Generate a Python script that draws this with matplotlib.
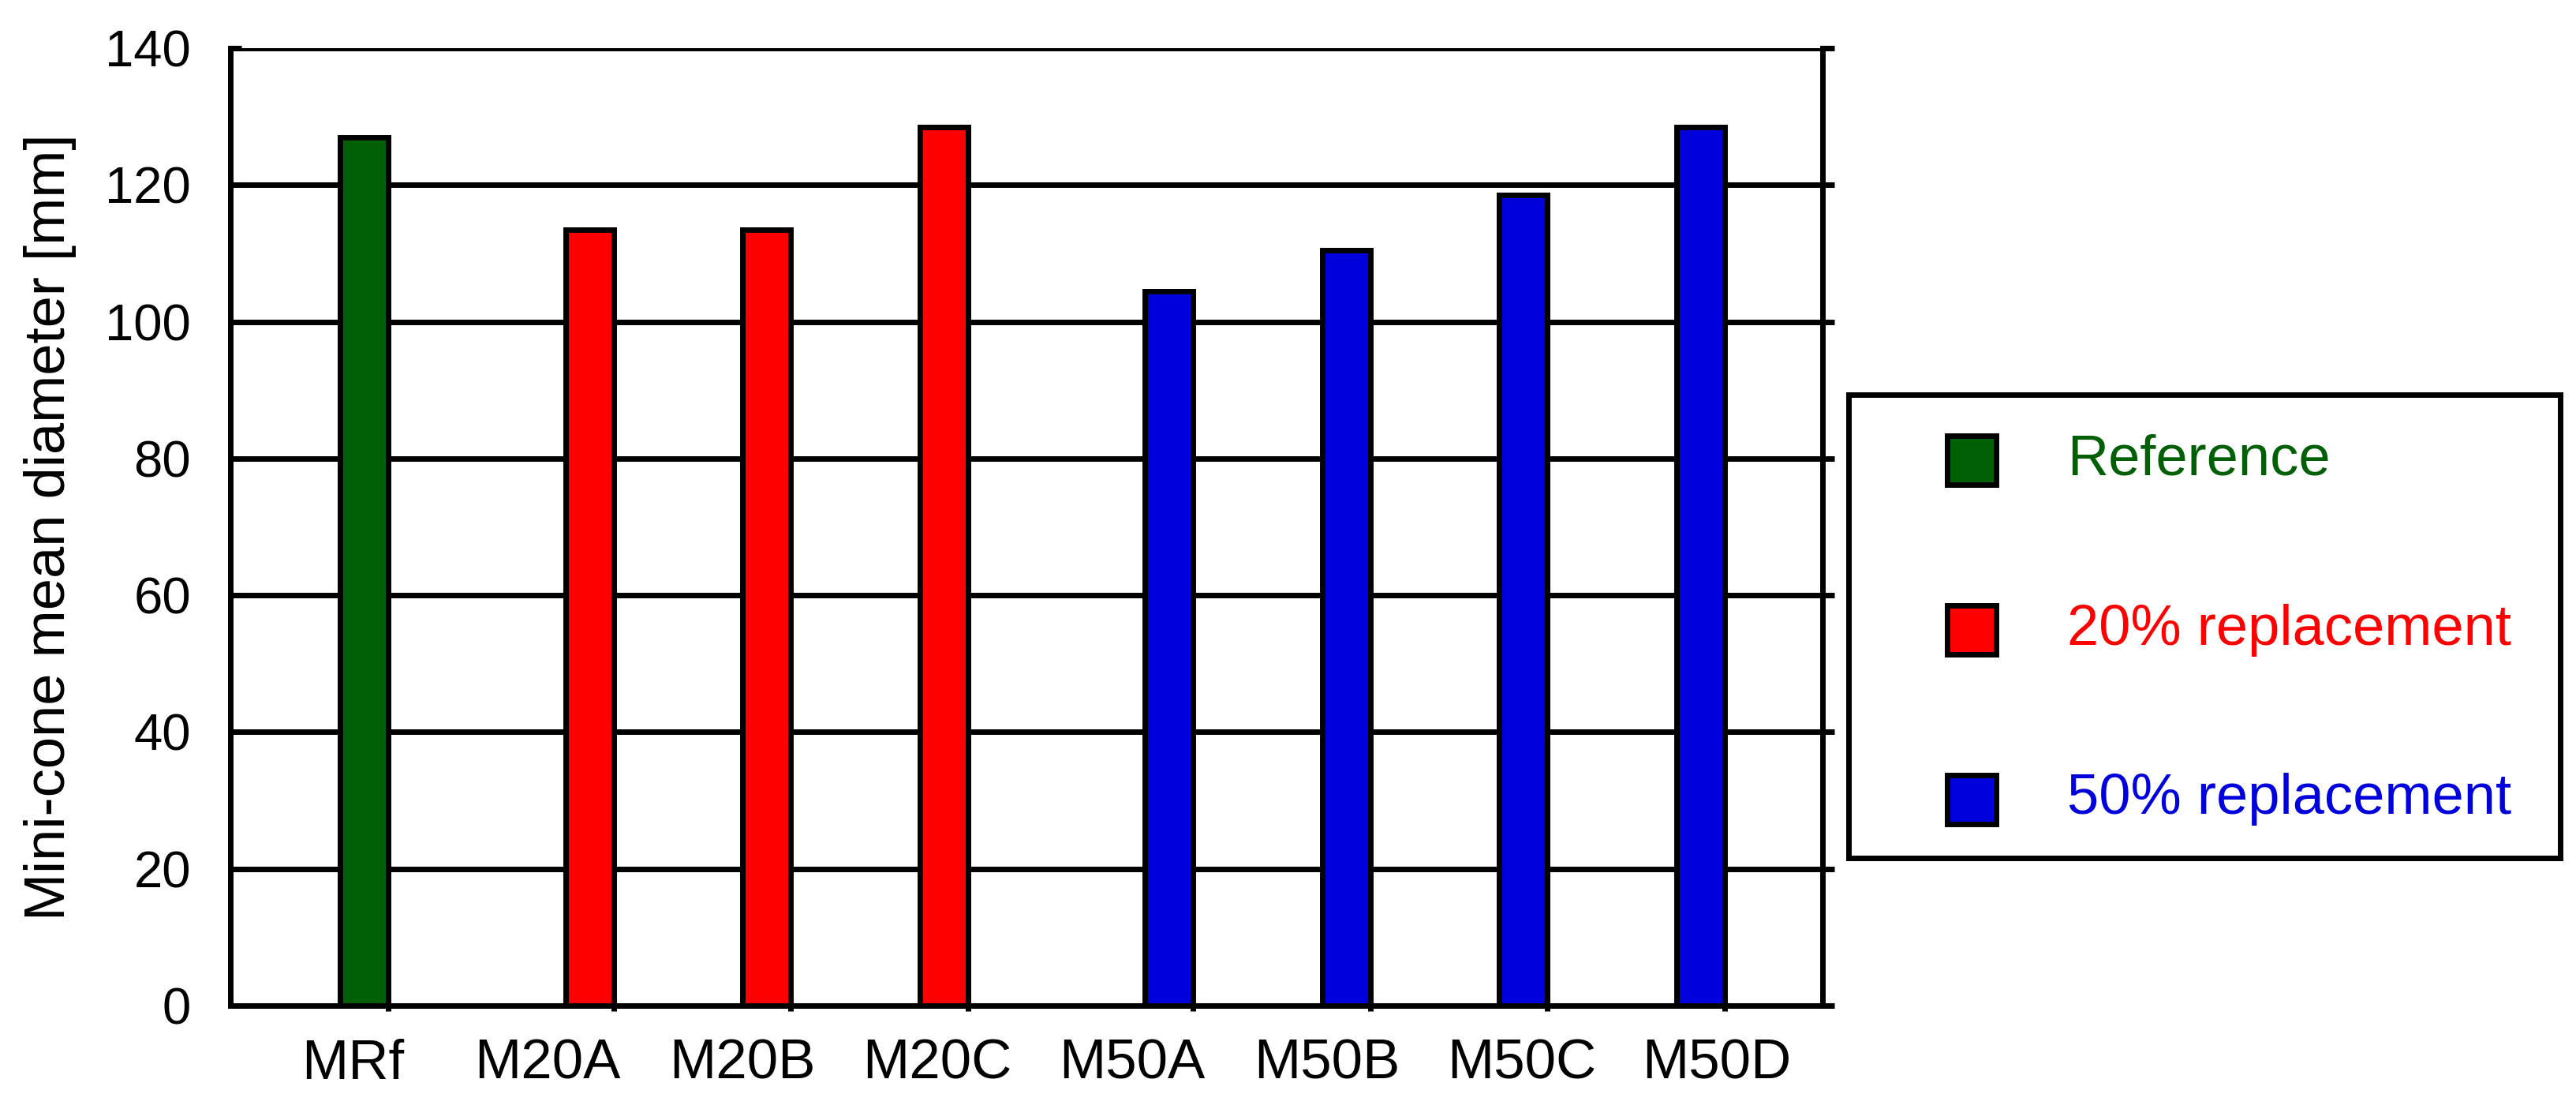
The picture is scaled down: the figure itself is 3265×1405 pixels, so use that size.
import matplotlib
matplotlib.use("Agg")
import matplotlib.pyplot as plt
from matplotlib.patches import Rectangle

plt.rcParams['font.family'] = ['Liberation Sans', 'DejaVu Sans']

# data
categories = ["MRf", "M20A", "M20B", "M20C", "M50A", "M50B", "M50C", "M50D"]
diameters = [127, 113.5, 113.5, 128.5, 104.5, 110.5, 118.5, 128.5]
groups = [0, 1, 1, 1, 2, 2, 2, 2]
series_names = ["Reference", "20% replacement", "50% replacement"]
series_colors = ["#016006", "#ff0000", "#0000dd"]
y_ticks = [0, 20, 40, 60, 80, 100, 120, 140]

W, H = 3266, 1405
DPI = 200
LW = 2.5
bar_w = 0.272

fig = plt.figure(figsize=(W / DPI, H / DPI), dpi=DPI)
ax = fig.add_axes([292 / W, 1 - 1274 / H, (2310 - 292) / W, (1274 - 61) / H])

# clustered layout: each series sits at its own offset inside a category slot
xs = [i + (g - 1) * bar_w for i, g in enumerate(groups)]
ax.bar(xs, diameters, width=bar_w, color=[series_colors[g] for g in groups],
       edgecolor='black', linewidth=LW, zorder=3)

ax.set_xlim(-1.027, 7.962)
ax.set_ylim(0, 140)

ax.yaxis.grid(True, color='black', linewidth=LW)
ax.set_axisbelow(True)

ax.spines['top'].set_visible(False)
ax.spines['right'].set_visible(False)
ax.spines['left'].set_linewidth(LW)
ax.spines['bottom'].set_linewidth(LW)

ax.set_yticks(y_ticks)
ax.tick_params(axis='y', direction='in', length=5, width=LW, labelsize=23.5, pad=18)

# labels are spaced a bit wider than the bars in the original
label_x0, label_step = -0.336, 1.1
ax.set_xticks([label_x0 + label_step * i for i in range(len(categories))])
ax.set_xticklabels(categories)
ax.set_xticks([x + bar_w / 2 for x in xs], minor=True)
ax.tick_params(axis='x', which='major', length=0, labelsize=25.5, pad=15)
ax.tick_params(axis='x', which='minor', direction='out', length=2.5, width=LW)

sec = ax.secondary_yaxis('right')
sec.set_yticks(y_ticks)
sec.tick_params(direction='out', length=5.4, width=LW, labelright=False)
sec.spines['right'].set_linewidth(LW)

ax.set_ylabel("Mini-cone mean diameter [mm]", fontsize=26)
ax.yaxis.set_label_coords((97 - 292) / 2018, 0.5)

# legend box drawn by hand to match the original spacing
lax = fig.add_axes([2343 / W, 1 - 1087 / H, (3245 - 2343) / W, (1087 - 500) / H])
lax.set_xlim(0, 902)
lax.set_ylim(587, 0)
lax.set_xticks([])
lax.set_yticks([])
for s in lax.spines.values():
    s.set_linewidth(LW)
for k, (name, col) in enumerate(zip(series_names, series_colors)):
    yc = 83 + 215 * k
    lax.add_patch(Rectangle((125, yc - 31), 62, 62, facecolor=col,
                            edgecolor='black', linewidth=LW))
    lax.text(277, yc, name, color=col, fontsize=26, va='center', ha='left')

fig.savefig("out.png", dpi=DPI)
